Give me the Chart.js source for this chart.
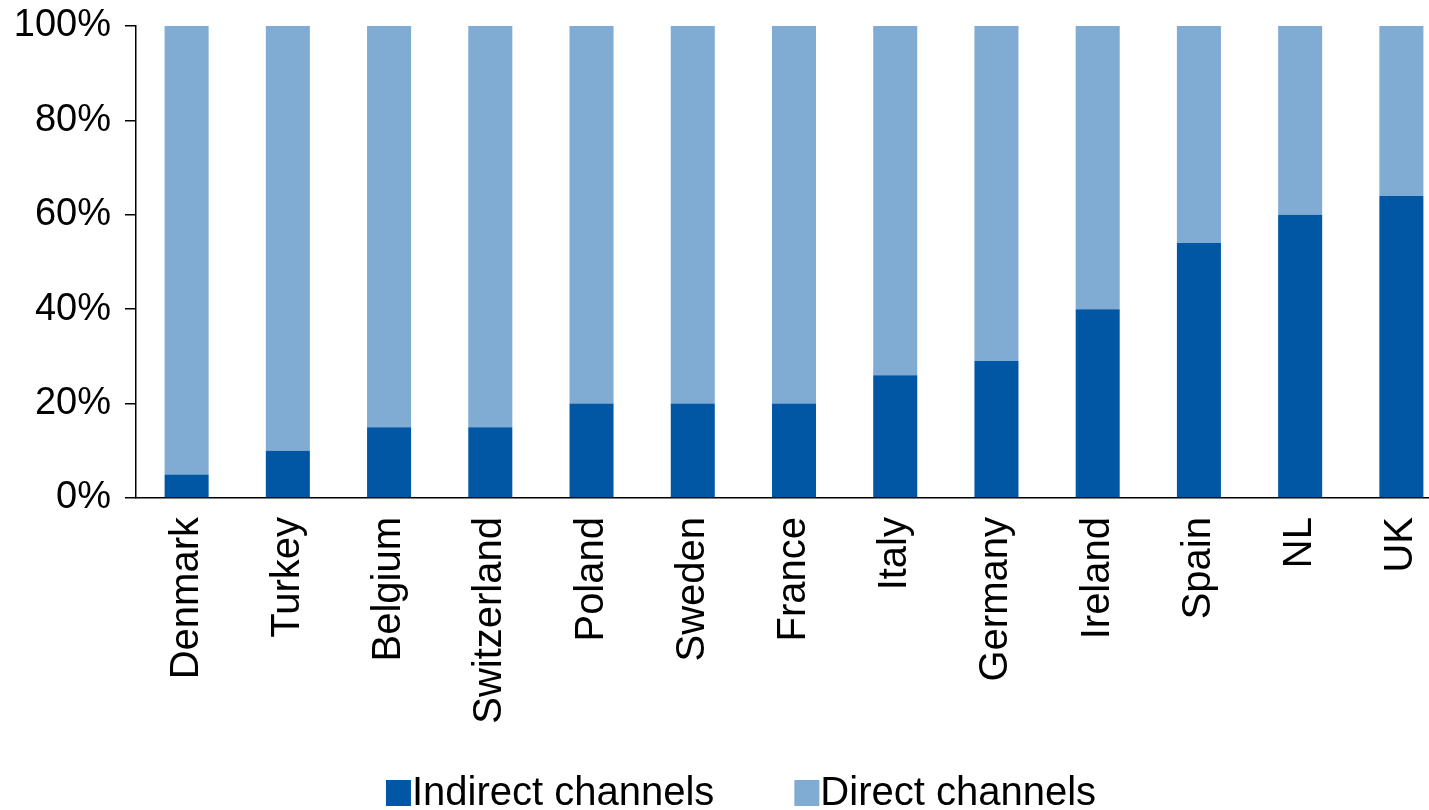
<!DOCTYPE html>
<html>
<head>
<meta charset="utf-8">
<script src="https://cdn.jsdelivr.net/npm/chart.js@4.4.1/dist/chart.umd.min.js"></script>
<style>
  html, body { margin: 0; padding: 0; background: #fff; overflow: hidden; }
  #wrap { width: 1452px; height: 810px; }
</style>
</head>
<body>
<div id="wrap"><canvas id="c" width="1452" height="810"></canvas></div>
<script>
// Share of sales by channel per country (%)
const countries = ['Denmark', 'Turkey', 'Belgium', 'Switzerland', 'Poland', 'Sweden', 'France', 'Italy', 'Germany', 'Ireland', 'Spain', 'NL', 'UK'];
const indirectChannels = [5, 10, 15, 15, 20, 20, 20, 26, 29, 40, 54, 60, 64];
const directChannels = [95, 90, 85, 85, 80, 80, 80, 74, 71, 60, 46, 40, 36];
const seriesNames = ['Indirect channels', 'Direct channels'];
const yTicks = [0, 20, 40, 60, 80, 100];

const FONT = '"Liberation Sans", Arial, sans-serif';
const DARK = '#0257A5';
const LIGHT = '#80ABD3';

// Legend drawn as square swatch immediately followed by its label
const bottomLegend = {
  id: 'bottomLegend',
  afterDraw(chart) {
    const ctx = chart.ctx;
    ctx.save();
    ctx.font = '40px ' + FONT;
    ctx.textBaseline = 'middle';
    const box = 25, gap = 1, spacing = 80, cy = 793;
    const items = chart.data.datasets.map(d => ({
      label: d.label, color: d.backgroundColor,
      w: box + gap + ctx.measureText(d.label).width
    }));
    const total = items.reduce((s, it) => s + it.w, 0) + spacing * (items.length - 1);
    let x = 741 - total / 2;
    items.forEach(it => {
      ctx.fillStyle = it.color;
      ctx.fillRect(x, cy - 13, box, box + 1);
      ctx.fillStyle = '#000';
      ctx.fillText(it.label, x + box + gap, cy + 1);
      x += it.w + spacing;
    });
    ctx.restore();
  }
};

new Chart(document.getElementById('c'), {
  type: 'bar',
  data: {
    labels: countries,
    datasets: [
      { label: seriesNames[0], data: indirectChannels, backgroundColor: DARK, borderWidth: 0 },
      { label: seriesNames[1], data: directChannels, backgroundColor: LIGHT, borderWidth: 0 }
    ]
  },
  options: {
    responsive: false,
    animation: false,
    maintainAspectRatio: false,
    layout: { padding: { top: 26, right: 0, bottom: 0, left: 0 } },
    datasets: { bar: { categoryPercentage: 1, barPercentage: 0.435 } },
    plugins: {
      legend: { display: false },
      tooltip: { enabled: false }
    },
    scales: {
      x: {
        stacked: true,
        grid: { display: false },
        border: { display: true, color: '#000', width: 1.5 },
        ticks: {
          color: '#000',
          font: { family: FONT, size: 40 },
          maxRotation: 90, minRotation: 90,
          padding: 11,
          autoSkip: false
        },
        afterFit(scale) {
          scale.height = 312;
          scale.paddingLeft = 0;
          scale.paddingRight = 0;
        }
      },
      y: {
        stacked: true,
        min: 0, max: 100,
        afterBuildTicks(scale) { scale.ticks = yTicks.map(v => ({ value: v })); },
        grid: { drawOnChartArea: false, drawTicks: true, tickLength: 11, color: '#000', lineWidth: 1.5 },
        border: { display: true, color: '#000', width: 1.5 },
        ticks: {
          color: '#000',
          font: { family: FONT, size: 38 },
          padding: 14,
          callback: v => v + '%'
        },
        afterFit(scale) {
          scale.width = 136;
          scale.paddingTop = 0;
          scale.paddingBottom = 0;
        }
      }
    }
  },
  plugins: [bottomLegend]
});
</script>
</body>
</html>
